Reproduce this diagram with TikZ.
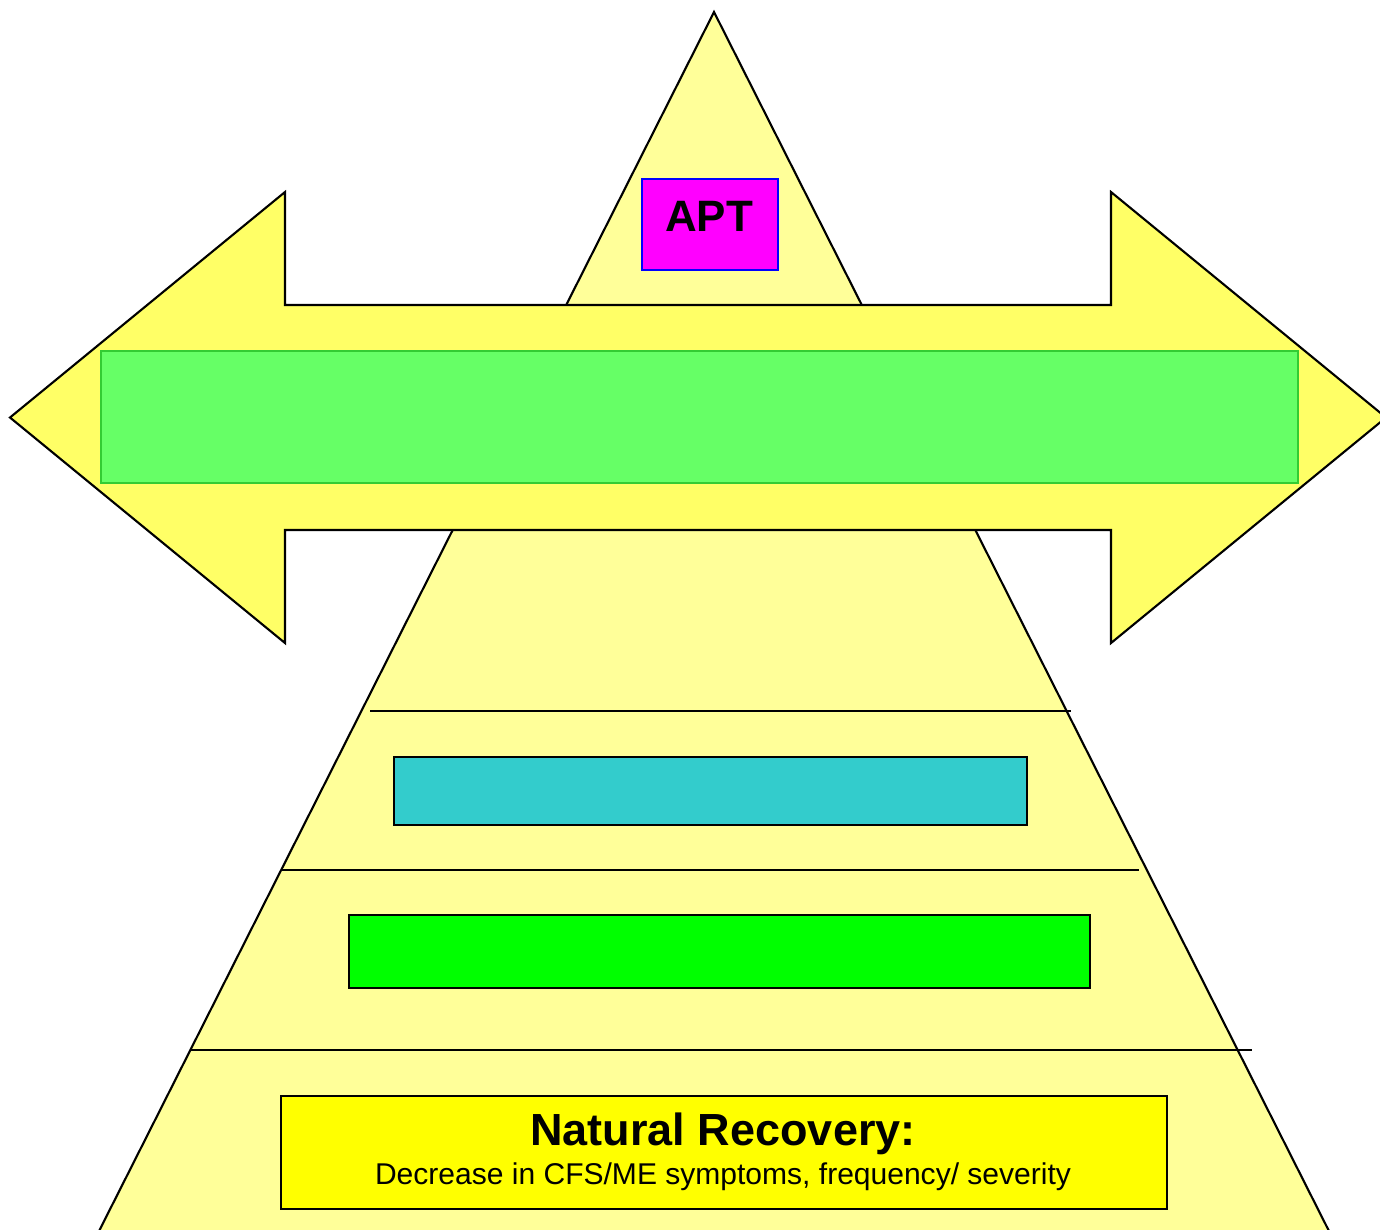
\documentclass[tikz,border=0pt]{standalone}
\usepackage{fontspec}
\setmainfont{Liberation Sans}
\definecolor{pyr}{HTML}{FFFF99}
\definecolor{arr}{HTML}{FFFF66}
\definecolor{lgreen}{HTML}{66FF66}
\definecolor{lgreenb}{HTML}{33CC33}
\definecolor{teal2}{HTML}{33CCCC}
\definecolor{green2}{HTML}{00FF00}
\definecolor{yel}{HTML}{FFFF00}
\definecolor{mag}{HTML}{FF00FF}
\definecolor{blu}{HTML}{0000FF}
\tikzset{
  outl/.style={draw=black, line width=0.6pt, line join=miter},
  boxnode/.style={draw=black, line width=0.6pt, inner sep=0pt, anchor=north west},
}
\begin{document}
\begin{tikzpicture}[x=0.01cm,y=-0.01cm]
\useasboundingbox (0,0) rectangle (1380,1229);
\clip (0,0) rectangle (1380,1229);
% pyramid
\draw[outl, fill=pyr] (714,12) -- (94,1241) -- (1334,1241) -- cycle;
% level lines
\draw[line width=0.6pt] (370,711) -- (1071,711);
\draw[line width=0.6pt] (282,870) -- (1139,870);
\draw[line width=0.6pt] (190,1050) -- (1252,1050);
% double arrow
\draw[outl, fill=arr] (10,417.5) -- (285,192) -- (285,305) -- (1111,305) -- (1111,192)
  -- (1386,417.5) -- (1111,643) -- (1111,530) -- (285,530) -- (285,643) -- cycle;
% boxes
\node[boxnode, draw=lgreenb, fill=lgreen, minimum width=1197*0.01cm, minimum height=132*0.01cm] (band) at (99.5,349.5) {};
\node[boxnode, draw=blu, fill=mag, minimum width=136*0.01cm, minimum height=91*0.01cm] (apt) at (640.5,177.5) {};
\node[font=\fontsize{12.5pt}{14pt}\selectfont\bfseries] (apttxt) at (709,216) {APT};
\node[boxnode, fill=teal2, minimum width=633*0.01cm, minimum height=68*0.01cm] (lvl2) at (392.5,755.5) {};
\node[boxnode, fill=green2, minimum width=741*0.01cm, minimum height=73*0.01cm] (lvl3) at (347.5,913.5) {};
\node[boxnode, fill=yel, minimum width=886*0.01cm, minimum height=113*0.01cm] (nat) at (279.5,1094.5) {};
\node[font=\fontsize{12.8pt}{15pt}\selectfont\bfseries, anchor=base] (natt) at (723,1145) {Natural Recovery:};
\node[font=\fontsize{8.54pt}{10pt}\selectfont, anchor=base] (nats) at (723,1184) {Decrease in CFS/ME symptoms, frequency/ severity};
\end{tikzpicture}
\end{document}
